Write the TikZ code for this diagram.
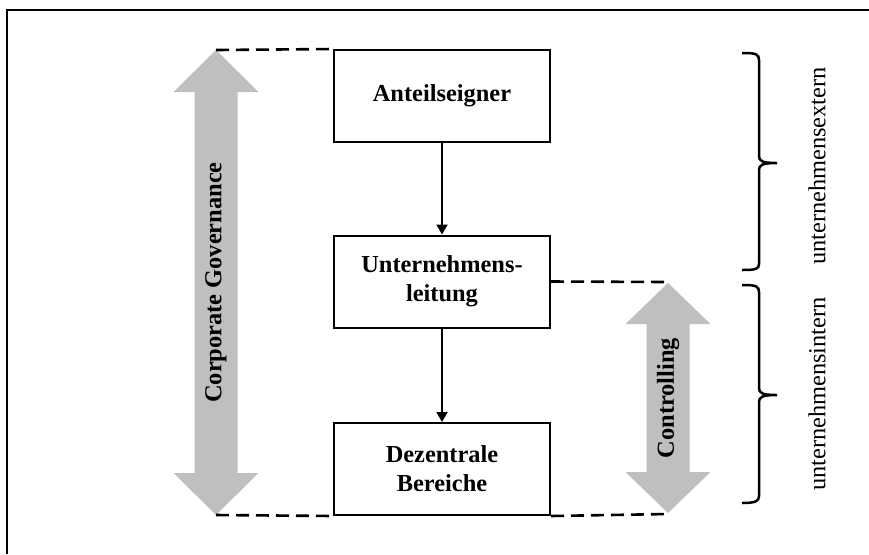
\documentclass[tikz,border=0pt]{standalone}
\usepackage{fontspec}
\setmainfont{Liberation Serif}
\usepackage{tikz}
\usetikzlibrary{arrows.meta}
\usetikzlibrary{backgrounds}
\usetikzlibrary{positioning}
\pgfdeclarelayer{edgelayer}
\pgfdeclarelayer{nodelayer}
\pgfsetlayers{background,edgelayer,nodelayer,main}
\tikzstyle{none}=[inner sep=0mm]
\tikzstyle{box}=[draw=black,line width=1pt,fill=white,minimum width=108pt,minimum height=46pt,inner sep=0pt,align=center,font=\fontsize{12.2}{14.5}\selectfont\bfseries]
\tikzstyle{flow}=[line width=1pt,-{Triangle[length=5pt,width=5.5pt]}]
\tikzstyle{guide}=[line width=1.3pt,dash pattern=on 6.5pt off 3.5pt]
\tikzstyle{band}=[fill=black!25,draw=none]
\tikzstyle{bandlabel}=[inner sep=0mm,rotate=90,font=\fontsize{12.2}{14.5}\selectfont\bfseries]
\tikzstyle{side}=[inner sep=0mm,rotate=90,font=\fontsize{12.2}{14.5}\selectfont]
\tikzstyle{curly}=[line width=1.25pt]

\begin{document}
\begin{tikzpicture}[x=0.5pt,y=-0.5pt]
	\useasboundingbox (0,0) rectangle (869,554);
	% frame
	\draw [line width=1pt] (7,554) -- (7,10) -- (869,10);
	\begin{pgfonlayer}{nodelayer}
		\node [style=box] (share) at (442, 96) {Anteilseigner};
		\node [style=box] (board) at (442, 281.5) {Unternehmens-\\leitung};
		\node [style=box] (units) at (442, 469) {Dezentrale\\Bereiche};
		\node [style=bandlabel] (cglabel) at (216, 282.5) {Corporate Governance};
		\node [style=bandlabel] (ctrllabel) at (668, 398) {Controlling};
		\node [style=side] (extern) at (817, 166) {unternehmensextern};
		\node [style=side] (intern) at (817, 394) {unternehmensintern};
		\coordinate (cgtop) at (216, 50);
		\coordinate (cgbot) at (216, 515);
		\coordinate (ctrltop) at (668, 282);
		\coordinate (ctrlbot) at (668, 514);
	\end{pgfonlayer}
	\begin{pgfonlayer}{edgelayer}
		% grey double arrows
		\fill [style=band] (216,50) -- (258.5,92) -- (237.5,92) -- (237.5,473) -- (258.5,473)
			-- (216,515) -- (173.5,473) -- (194.5,473) -- (194.5,92) -- (173.5,92) -- cycle;
		\fill [style=band] (668,283) -- (710.5,324) -- (689.5,324) -- (689.5,472) -- (710.5,472)
			-- (668,513) -- (625.5,472) -- (646.5,472) -- (646.5,324) -- (625.5,324) -- cycle;
		\draw [style=guide] (cgtop) -- (share.north west);
		\draw [style=guide] (cgbot) -- (units.south west);
		\draw [style=guide] (board.east) -- (ctrltop);
		\draw [style=guide] (units.south east) -- (ctrlbot);
		\draw [style=flow] (share) to (board);
		\draw [style=flow] (board) to (units);
		% braces
		\draw [style=curly] (742,53) .. controls (756,53) and (759,54) .. (759,60) -- (759,156)
			.. controls (759,161) and (762,163) .. (777,163)
			.. controls (762,163) and (759,165) .. (759,170) -- (759,264)
			.. controls (759,269) and (756,270) .. (742,270);
		\draw [style=curly] (742,285) .. controls (756,285) and (759,286) .. (759,292) -- (759,388)
			.. controls (759,393) and (762,395) .. (777,395)
			.. controls (762,395) and (759,397) .. (759,402) -- (759,496)
			.. controls (759,501) and (756,503) .. (742,503);
	\end{pgfonlayer}
\end{tikzpicture}
\end{document}
